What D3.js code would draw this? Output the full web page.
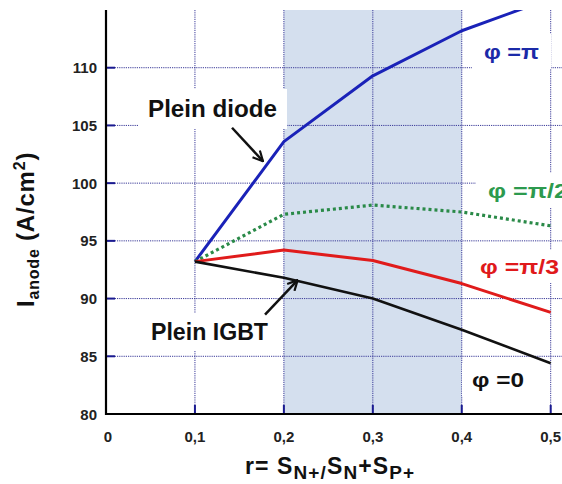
<!DOCTYPE html>
<html><head><meta charset="utf-8">
<script src="https://cdn.jsdelivr.net/npm/d3@7"></script>
<style>
html,body{margin:0;padding:0;background:#fff;}
svg{display:block;font-family:"Liberation Sans",Arial,sans-serif;}
</style></head>
<body>
<svg id="c" width="562" height="484"></svg>
<script>
// ---- data ----
const r = [0.1, 0.2, 0.3, 0.4, 0.5];
const phiPi  = [93.2, 103.6, 109.3, 113.2, 116.0];
const phiPi2 = [93.2, 97.3, 98.1, 97.5, 96.3];
const phiPi3 = [93.2, 94.2, 93.3, 91.3, 88.8];
const phi0   = [93.2, 91.8, 90.0, 87.3, 84.4];
const xTicks = [0, 0.1, 0.2, 0.3, 0.4, 0.5];
const xTickLabels = ["0", "0,1", "0,2", "0,3", "0,4", "0,5"];
const yTicks = [80, 85, 90, 95, 100, 105, 110];
const shadeRange = [0.2, 0.4];
const seriesNames = ["φ =π", "φ =π/2", "φ =π/3", "φ =0"];

// ---- layout ----
const svg = d3.select("#c");
const x = d3.scaleLinear().domain([0, 0.5]).range([106, 550.7]);
const y = d3.scaleLinear().domain([80, 115]).range([414, 10]);
const plotRight = 562, plotTop = 10, plotBottom = 414, plotLeft = 106;
const gridColor = "#3a3a98";

svg.append("defs").append("clipPath").attr("id", "clip")
  .append("rect").attr("x", plotLeft).attr("y", plotTop)
  .attr("width", plotRight - plotLeft).attr("height", plotBottom - plotTop);

// shading
svg.append("rect")
  .attr("x", x(shadeRange[0])).attr("y", plotTop)
  .attr("width", x(shadeRange[1]) - x(shadeRange[0]))
  .attr("height", plotBottom - plotTop)
  .attr("fill", "#d4dfee");

// gridlines
const grid = svg.append("g");
grid.selectAll("line.h").data(yTicks.filter(v => v > 80)).join("line")
  .attr("x1", plotLeft).attr("x2", plotRight)
  .attr("y1", d => y(d)).attr("y2", d => y(d))
  .attr("stroke", gridColor).attr("stroke-width", 1).attr("stroke-dasharray", "1.2,1");
grid.selectAll("line.v").data(xTicks.filter(v => v > 0)).join("line")
  .attr("x1", d => x(d)).attr("x2", d => x(d))
  .attr("y1", plotTop).attr("y2", plotBottom)
  .attr("stroke", gridColor).attr("stroke-width", 1).attr("stroke-dasharray", "1.2,1");

function boxedText(g, txt, xp, yp, opts) {
  const t = g.append("text").attr("x", xp).attr("y", yp)
    .attr("font-size", opts.size).attr("font-weight", "bold")
    .attr("fill", opts.color).text(txt);
  if (opts.len) t.attr("textLength", opts.len).attr("lengthAdjust", "spacingAndGlyphs");
  return t;
}
const boxLayer = svg.append("g");
const lineLayer = svg.append("g").attr("clip-path", "url(#clip)");
const textLayer = svg.append("g");

const annots = [
  {txt: "Plein diode", x: 148, y: 117, size: 23, len: 129, color: "#111", px: 10, py: 7},
  {txt: "Plein IGBT", x: 151, y: 340, size: 23, len: 117, color: "#111", px: 10, py: 6},
  {txt: seriesNames[0], x: 484, y: 59, size: 21, len: 55, color: "#1b2aa8", px: 12, py: 6},
  {txt: seriesNames[1], x: 488, y: 198, size: 21, len: 80, color: "#2d9a4e", px: 12, py: 6},
  {txt: seriesNames[2], x: 480, y: 274, size: 21, len: 79, color: "#e0191b", px: 10, py: 5},
  {txt: seriesNames[3], x: 472, y: 387, size: 21, len: 52, color: "#111", px: 10, py: 5}
];
annots.forEach(a => {
  const t = boxedText(textLayer, a.txt, a.x, a.y, a);
  const b = t.node().getBBox();
  boxLayer.append("rect").attr("x", b.x - a.px).attr("y", b.y - a.py)
    .attr("width", b.width + 2 * a.px).attr("height", b.height + 2 * a.py)
    .attr("fill", "#fff");
});

// series lines
const series = [
  {v: phiPi, color: "#1a22b8", w: 3, dash: null},
  {v: phiPi2, color: "#2a8a48", w: 3.2, dash: "3,3"},
  {v: phiPi3, color: "#e01b1b", w: 3, dash: null},
  {v: phi0, color: "#111", w: 2.6, dash: null}
];
const line = d3.line().x(d => x(d[0])).y(d => y(d[1]));
series.forEach(s => {
  lineLayer.append("path")
    .attr("d", line(r.map((rv, i) => [rv, s.v[i]])))
    .attr("fill", "none").attr("stroke", s.color).attr("stroke-width", s.w)
    .attr("stroke-dasharray", s.dash).attr("stroke-linejoin", "round");
});

// axes
const axG = svg.append("g");
axG.selectAll("line.yt").data(yTicks.filter(v => v > 80)).join("line")
  .attr("x1", plotLeft).attr("x2", plotLeft + 9)
  .attr("y1", d => y(d)).attr("y2", d => y(d))
  .attr("stroke", "#1a1a90").attr("stroke-width", 2);
axG.selectAll("line.xt").data(xTicks.filter(v => v > 0)).join("line")
  .attr("x1", d => x(d)).attr("x2", d => x(d))
  .attr("y1", plotBottom).attr("y2", plotBottom - 9)
  .attr("stroke", "#1a1a90").attr("stroke-width", 2);
axG.append("line").attr("x1", plotLeft).attr("x2", plotLeft)
  .attr("y1", plotTop).attr("y2", plotBottom + 1).attr("stroke", "#000").attr("stroke-width", 2.2);
axG.append("line").attr("x1", plotLeft - 1).attr("x2", plotRight)
  .attr("y1", plotBottom).attr("y2", plotBottom).attr("stroke", "#000").attr("stroke-width", 2.2);

// tick labels
axG.selectAll("text.yl").data(yTicks).join("text")
  .attr("x", 97).attr("y", d => y(d) + 5.5)
  .attr("text-anchor", "end").attr("font-size", 15).attr("font-weight", "bold")
  .attr("fill", "#222").text(d => d);
axG.selectAll("text.xl").data(xTicks).join("text")
  .attr("x", (d, i) => x(d) + (i === 0 ? 2 : 0)).attr("y", 441.5)
  .attr("text-anchor", "middle").attr("font-size", 15).attr("font-weight", "bold")
  .attr("fill", "#222").text((d, i) => xTickLabels[i]);

// arrows
const defs = svg.select("defs");
defs.append("marker").attr("id", "arr").attr("viewBox", "0 0 12 12")
  .attr("refX", 11).attr("refY", 6).attr("markerWidth", 12).attr("markerHeight", 12)
  .attr("markerUnits", "userSpaceOnUse").attr("orient", "auto")
  .append("path").attr("d", "M1,1 L11,6 L1,11").attr("fill", "none")
  .attr("stroke", "#111").attr("stroke-width", 2.2);
const arrows = [
  {from: [0.1417, 104.8], to: [0.1765, 101.9]},
  {from: [0.1788, 88.6], to: [0.2155, 91.6]}
];
arrows.forEach(a => {
  svg.append("line").attr("x1", x(a.from[0])).attr("y1", y(a.from[1]))
    .attr("x2", x(a.to[0])).attr("y2", y(a.to[1]))
    .attr("stroke", "#111").attr("stroke-width", 2.5).attr("marker-end", "url(#arr)");
});

// axis titles
const yl = svg.append("text").attr("transform", "translate(34,307) rotate(-90)")
  .attr("font-size", 24).attr("font-weight", "bold").attr("fill", "#111")
  .attr("letter-spacing", 0.8);
yl.append("tspan").text("I");
yl.append("tspan").attr("font-size", 16).attr("dy", 5).text("anode");
yl.append("tspan").attr("dy", -5).text(" (A/cm");
yl.append("tspan").attr("font-size", 16).attr("dy", -9).text("2");
yl.append("tspan").attr("dy", 9).text(")");

const xl = svg.append("text").attr("x", 245).attr("y", 474)
  .attr("font-size", 23).attr("font-weight", "bold").attr("fill", "#111")
  .attr("letter-spacing", 1.1);
xl.append("tspan").text("r= S");
xl.append("tspan").attr("font-size", 19).attr("dy", 5).text("N+/");
xl.append("tspan").attr("dy", -5).text("S");
xl.append("tspan").attr("font-size", 19).attr("dy", 5).text("N");
xl.append("tspan").attr("dy", -5).text("+S");
xl.append("tspan").attr("font-size", 19).attr("dy", 5).text("P+");
</script>
</body></html>
